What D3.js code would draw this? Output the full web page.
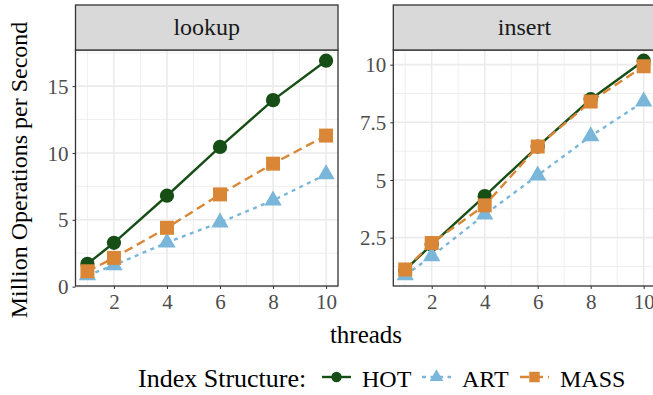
<!DOCTYPE html>
<html>
<head>
<meta charset="utf-8">
<script src="https://cdn.jsdelivr.net/npm/d3@7"></script>
<style>
  body { margin: 0; background: #fff; }
  svg text { font-family: 'Liberation Serif', 'Times New Roman', serif !important; }
</style>
</head>
<body>
<div id="chart"></div>
<script>
let width = 653,
  height = 395

// data
let threads = [1, 2, 4, 6, 8, 10]
let panels = ['lookup', 'insert']
let structures = ['HOT', 'ART', 'MASS']

let lookupHOT = [1.7, 3.28, 6.8, 10.45, 13.95, 16.9]
let lookupART = [0.85, 1.6, 3.3, 4.8, 6.45, 8.4]
let lookupMASS = [1.15, 2.15, 4.4, 6.9, 9.2, 11.3]

let insertHOT = [1.1, 2.2, 4.3, 6.45, 8.5, 10.17]
let insertART = [0.87, 1.7, 3.5, 5.2, 6.9, 8.4]
let insertMASS = [1.12, 2.27, 3.9, 6.45, 8.4, 9.93]

let xTicks = [2, 4, 6, 8, 10]
let yTicksLookup = [0, 5, 10, 15]
let yTicksInsert = [2.5, 5, 7.5, 10]

let seriesData = {
  lookup: { HOT: lookupHOT, ART: lookupART, MASS: lookupMASS },
  insert: { HOT: insertHOT, ART: insertART, MASS: insertMASS }
}
let yTicks = { lookup: yTicksLookup, insert: yTicksInsert }

let font = "'Liberation Serif', serif"
let color = d3.scaleOrdinal()
  .domain(structures)
  .range(['#164e16', '#79b6d9', '#d98736'])
let dash = { HOT: null, ART: '4,4.5', MASS: '9,5' }
let symbolType = { HOT: d3.symbolCircle, ART: d3.symbolTriangle, MASS: d3.symbolSquare }
let symbolSize = { HOT: 160, ART: 130, MASS: 196 }
let keySize = { HOT: 85, ART: 80, MASS: 110 }

let panelBox = {
  lookup: { x0: 75.5, x1: 338 },
  insert: { x0: 393.3, x1: 655.6 }
}
let stripTop = 5,
  panelTop = 50,
  panelBottom = 286

let svg = d3.select('#chart').append('svg')
  .attr('width', width)
  .attr('height', height)
  .attr('font-family', font)

function expand (ext) {
  let pad = (ext[1] - ext[0]) * 0.05
  return [ext[0] - pad, ext[1] + pad]
}

function minorTicks (ticks, domain) {
  let step = ticks[1] - ticks[0]
  let out = []
  for (let v = ticks[0] - step / 2; v <= domain[1]; v += step) {
    if (v >= domain[0]) out.push(v)
  }
  return out
}

panels.forEach(function (p) {
  let box = panelBox[p]
  let x = d3.scaleLinear()
    .domain(expand(d3.extent(threads)))
    .range([box.x0, box.x1])
  let allVals = [].concat(...structures.map(s => seriesData[p][s]))
  let y = d3.scaleLinear()
    .domain(expand(d3.extent(allVals)))
    .range([panelBottom, panelTop])

  let g = svg.append('g').attr('class', 'panel ' + p)

  // grid
  minorTicks(xTicks, x.domain()).forEach(function (v) {
    g.append('line').attr('x1', x(v)).attr('x2', x(v))
      .attr('y1', panelTop).attr('y2', panelBottom)
      .attr('stroke', '#ebebeb').attr('stroke-width', 0.8)
  })
  minorTicks(yTicks[p], y.domain()).forEach(function (v) {
    g.append('line').attr('y1', y(v)).attr('y2', y(v))
      .attr('x1', box.x0).attr('x2', box.x1)
      .attr('stroke', '#ebebeb').attr('stroke-width', 0.8)
  })
  xTicks.forEach(function (v) {
    g.append('line').attr('x1', x(v)).attr('x2', x(v))
      .attr('y1', panelTop).attr('y2', panelBottom)
      .attr('stroke', '#ebebeb').attr('stroke-width', 1.6)
  })
  yTicks[p].forEach(function (v) {
    g.append('line').attr('y1', y(v)).attr('y2', y(v))
      .attr('x1', box.x0).attr('x2', box.x1)
      .attr('stroke', '#ebebeb').attr('stroke-width', 1.6)
  })

  // axes
  let xAxis = g.append('g')
    .attr('transform', 'translate(0,' + panelBottom + ')')
    .call(d3.axisBottom(x).tickValues(xTicks).tickSize(3).tickPadding(5))
  let yAxis = g.append('g')
    .attr('transform', 'translate(' + box.x0 + ',0)')
    .call(d3.axisLeft(y).tickValues(yTicks[p]).tickSize(3).tickPadding(4)
      .tickFormat(d3.format('~g')))
  ;[xAxis, yAxis].forEach(function (a) {
    a.attr('font-family', font).attr('font-size', 21)
    a.select('.domain').remove()
    a.selectAll('.tick line').attr('stroke', '#333333').attr('stroke-width', 1)
    a.selectAll('.tick text').attr('fill', '#4d4d4d')
  })
  yAxis.selectAll('.tick text').attr('dy', '0.34em')
  xAxis.selectAll('.tick text').attr('dy', '0.72em')

  // series
  let line = d3.line()
    .x((d, i) => x(threads[i]))
    .y(d => y(d))

  structures.forEach(function (s) {
    g.append('path')
      .datum(seriesData[p][s])
      .attr('d', line)
      .attr('fill', 'none')
      .attr('stroke', color(s))
      .attr('stroke-width', 2.4)
      .attr('stroke-dasharray', dash[s])
    g.selectAll('.pt-' + s)
      .data(seriesData[p][s])
      .enter().append('path')
      .attr('class', 'pt-' + s)
      .attr('transform', (d, i) => 'translate(' + x(threads[i]) + ',' + y(d) + ')')
      .attr('d', d3.symbol().type(symbolType[s]).size(symbolSize[s]))
      .attr('fill', color(s))
  })

  // border
  g.append('rect')
    .attr('x', box.x0).attr('y', panelTop)
    .attr('width', box.x1 - box.x0).attr('height', panelBottom - panelTop)
    .attr('fill', 'none').attr('stroke', '#333333').attr('stroke-width', 1.3)

  // strip
  g.append('rect')
    .attr('x', box.x0).attr('y', stripTop)
    .attr('width', box.x1 - box.x0).attr('height', panelTop - stripTop)
    .attr('fill', '#d9d9d9').attr('stroke', '#333333').attr('stroke-width', 1.3)
  g.append('text')
    .attr('x', (box.x0 + box.x1) / 2)
    .attr('y', 35)
    .attr('text-anchor', 'middle')
    .attr('fill', '#1a1a1a')
    .attr('font-size', 24)
    .text(p)
})

// axis titles
svg.append('text')
  .attr('x', 366)
  .attr('y', 343)
  .attr('text-anchor', 'middle')
  .attr('font-size', 25)
  .text('threads')

svg.append('text')
  .attr('transform', 'translate(27,170) rotate(-90)')
  .attr('text-anchor', 'middle')
  .attr('font-size', 24)
  .text('Million Operations per Second')

// legend
let legend = svg.append('g').attr('class', 'legend')
legend.append('text')
  .attr('x', 138).attr('y', 387)
  .attr('font-size', 26)
  .text('Index Structure:')

let keyX = { HOT: 322, ART: 422, MASS: 520 }
structures.forEach(function (s) {
  let k = legend.append('g').attr('transform', 'translate(' + keyX[s] + ',377)')
  k.append('line')
    .attr('x1', 0).attr('x2', 29)
    .attr('stroke', color(s))
    .attr('stroke-width', 2.4)
    .attr('stroke-dasharray', dash[s])
  k.append('path')
    .attr('transform', 'translate(14.5,0)')
    .attr('d', d3.symbol().type(symbolType[s]).size(keySize[s]))
    .attr('fill', color(s))
  legend.append('text')
    .attr('x', keyX[s] + 40).attr('y', 387)
    .attr('font-size', 24)
    .text(s)
})
</script>
</body>
</html>
